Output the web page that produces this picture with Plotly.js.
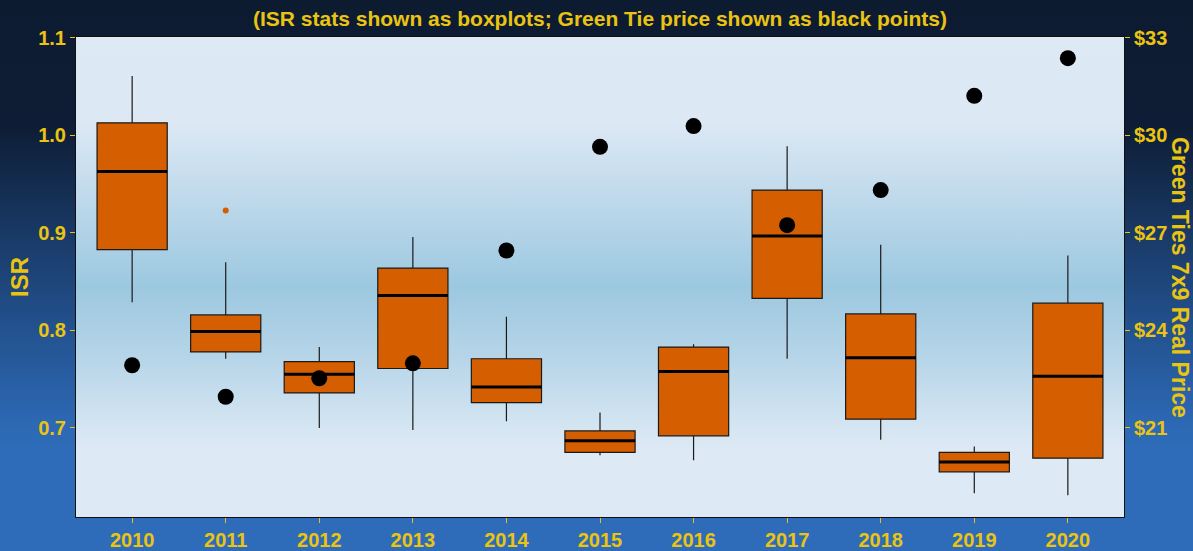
<!DOCTYPE html>
<html>
<head>
<meta charset="utf-8">
<script src="https://cdn.plot.ly/plotly-3.0.1.min.js"></script>
<style>
  html, body { margin: 0; padding: 0; }
  #wrap { position: relative; width: 1193px; height: 551px;
    background: linear-gradient(to bottom, #0d1b31 0%, #0e1d35 23%, #1a3d6c 45%, #23528f 60%, #2c67b2 76%, #2e6cb9 82%, #2e6cb9 100%); }
  #plotbg { position: absolute; left: 76px; top: 37px; width: 1048px; height: 480px;
    background: linear-gradient(to bottom, #dde9f5 0%, #dce8f4 18%, #bcd8ea 35%, #9cc8e0 52%, #b5d4e8 66%, #d2e4f1 80%, #dde9f5 86%, #dde9f5 100%); }
  #chart { position: absolute; left: 0; top: 0; width: 1193px; height: 551px; }
</style>
</head>
<body>
<div id="wrap"><div id="plotbg"></div><div id="chart"></div></div>
<script>
// ---- data ----
const years = [2010, 2011, 2012, 2013, 2014, 2015, 2016, 2017, 2018, 2019, 2020];
const isrLowerWhisker = [0.829, 0.771, 0.700, 0.698, 0.707, 0.672, 0.667, 0.771, 0.688, 0.633, 0.631];
const isrQ1           = [0.883, 0.778, 0.736, 0.761, 0.726, 0.675, 0.692, 0.833, 0.709, 0.655, 0.669];
const isrMedian       = [0.963, 0.799, 0.755, 0.836, 0.742, 0.687, 0.758, 0.897, 0.772, 0.665, 0.753];
const isrQ3           = [1.013, 0.816, 0.768, 0.864, 0.771, 0.697, 0.783, 0.944, 0.817, 0.675, 0.828];
const isrUpperWhisker = [1.061, 0.870, 0.783, 0.896, 0.814, 0.716, 0.786, 0.989, 0.888, 0.681, 0.877];
const outlierYears = [2011];
const outlierISR   = [0.923];
const greenTiePrice = [22.93, 21.96, 22.53, 22.99, 26.46, 29.65, 30.29, 27.24, 28.32, 31.22, 32.38];
const isrTicks = [0.7, 0.8, 0.9, 1.0, 1.1];
const priceTicks = [21, 24, 27, 30, 33];
const priceTickLabels = ['$21', '$24', '$27', '$30', '$33'];

// ---- styling ----
const gold = '#EAC412';
const boxFill = '#D55E00';
const boxWidth = 0.75;
const fontFam = 'Liberation Sans, Arial, sans-serif';

// median segments built from the median array
const medX = [], medY = [];
years.forEach((yr, i) => {
  medX.push(yr - boxWidth / 2, yr + boxWidth / 2, null);
  medY.push(isrMedian[i], isrMedian[i], null);
});

const traces = [
  {
    type: 'box',
    x: years,
    q1: isrQ1, median: isrMedian, q3: isrQ3,
    lowerfence: isrLowerWhisker, upperfence: isrUpperWhisker,
    width: boxWidth,
    fillcolor: boxFill,
    line: { color: '#1a1a1a', width: 1.2 },
    whiskerwidth: 0,
    hoverinfo: 'skip',
    showlegend: false,
    xaxis: 'x', yaxis: 'y'
  },
  {
    type: 'scatter', mode: 'lines',
    x: medX, y: medY,
    line: { color: '#000000', width: 3 },
    hoverinfo: 'skip', showlegend: false,
    xaxis: 'x', yaxis: 'y'
  },
  {
    type: 'scatter', mode: 'markers',
    x: outlierYears, y: outlierISR,
    marker: { color: boxFill, size: 6 },
    hoverinfo: 'skip', showlegend: false,
    xaxis: 'x', yaxis: 'y'
  },
  {
    type: 'scatter', mode: 'markers',
    x: years, y: greenTiePrice,
    marker: { color: '#000000', size: 16 },
    hoverinfo: 'skip', showlegend: false,
    xaxis: 'x', yaxis: 'y2'
  }
];

const yMin = 0.6087, yMax = 1.101;
// secondary axis aligned: 0.1 ISR == $3
const toPrice = v => 21 + (v - 0.7) * 30;

const tickFont = { family: fontFam, size: 20, color: gold, weight: 'bold' };

const layout = {
  width: 1193, height: 551,
  margin: { l: 76, r: 69, t: 37, b: 34 },
  paper_bgcolor: 'rgba(0,0,0,0)',
  plot_bgcolor: 'rgba(0,0,0,0)',
  font: { family: fontFam, color: gold },
  title: {
    text: '<b>(ISR stats shown as boxplots; Green Tie price shown as black points)</b>',
    font: { family: fontFam, size: 21, color: gold },
    x: 0.5, xref: 'paper', y: 0.967, yanchor: 'middle'
  },
  xaxis: {
    range: [2009.4, 2020.6],
    tickvals: years,
    ticktext: years.map(String),
    showgrid: false, zeroline: false,
    showline: true, linecolor: '#111111', linewidth: 1, mirror: true,
    ticks: 'outside', ticklen: 5, tickcolor: gold, tickwidth: 1,
    tickfont: tickFont
  },
  yaxis: {
    range: [yMin, yMax],
    tickvals: isrTicks,
    tickformat: '.1f',
    showgrid: false, zeroline: false,
    showline: true, linecolor: '#111111', linewidth: 1, mirror: true,
    ticks: 'outside', ticklen: 5, tickcolor: gold, tickwidth: 1,
    tickfont: tickFont,
    title: { text: '<b>ISR</b>', font: { family: fontFam, size: 24, color: gold }, standoff: 2 }
  },
  yaxis2: {
    overlaying: 'y', side: 'right',
    range: [toPrice(yMin), toPrice(yMax)],
    tickvals: priceTicks,
    ticktext: priceTickLabels,
    showgrid: false, zeroline: false, showline: false,
    ticks: 'outside', ticklen: 5, tickcolor: gold, tickwidth: 1,
    tickfont: tickFont
  },
  annotations: [{
    text: '<b>Green Ties 7x9 Real Price</b>',
    textangle: 90,
    xref: 'paper', yref: 'paper',
    x: 1.0, xshift: 56, y: 0.5,
    xanchor: 'center', yanchor: 'middle',
    showarrow: false,
    font: { family: fontFam, size: 23, color: gold }
  }],
  showlegend: false
};

Plotly.newPlot('chart', traces, layout, { displayModeBar: false, staticPlot: true });
</script>
</body>
</html>
